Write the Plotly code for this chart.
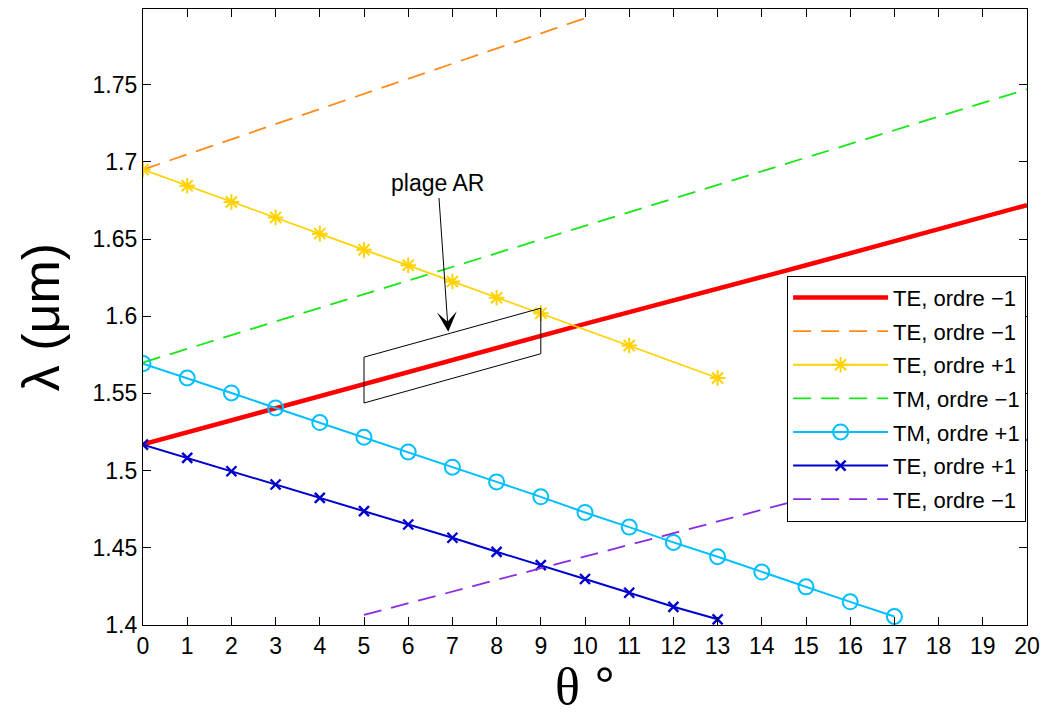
import plotly.graph_objects as go

# ---- data ----
theta_te_m1_red = [0, 5, 10, 15, 20]
lam_te_m1_red = [1.517, 1.556, 1.595, 1.633, 1.672]

theta_te_m1_orange = [0, 10]
lam_te_m1_orange = [1.695, 1.793]

theta_te_p1_yellow = [0, 1, 2, 3, 4, 5, 6, 7, 8, 9, 11, 13]
lam_te_p1_yellow = [1.695, 1.6845, 1.674, 1.664, 1.6535, 1.643, 1.633, 1.6225, 1.612, 1.602, 1.581, 1.560]

theta_tm_m1_green = [0, 20]
lam_tm_m1_green = [1.570, 1.747]

theta_tm_p1_cyan = list(range(0, 18))
lam_tm_p1_cyan = [1.5693, 1.5600, 1.5503, 1.5406, 1.5311, 1.5216, 1.5121, 1.5022, 1.4927,
                  1.4830, 1.4729, 1.4634, 1.4535, 1.4442, 1.4343, 1.4247, 1.4150, 1.4055]

theta_te_p1_blue = list(range(0, 14))
lam_te_p1_blue = [1.5168, 1.5082, 1.4996, 1.4910, 1.4823, 1.4737, 1.4651, 1.4565, 1.4474,
                  1.4388, 1.4298, 1.4209, 1.4118, 1.4037]

theta_te_m1_purple = [5, 20]
lam_te_m1_purple = [1.4065, 1.520]

legend_labels = ["TE, ordre \u22121", "TE, ordre \u22121", "TE, ordre +1", "TM, ordre \u22121",
                 "TM, ordre +1", "TE, ordre +1", "TE, ordre \u22121"]

x_ticks = list(range(0, 21))
y_ticks = [1.4, 1.45, 1.5, 1.55, 1.6, 1.65, 1.7, 1.75]
y_tick_labels = ["1.4", "1.45", "1.5", "1.55", "1.6", "1.65", "1.7", "1.75"]

box_theta = [5, 9, 9, 5]
box_lam = [1.5438, 1.5757, 1.6052, 1.5735]

FONT = "Liberation Sans, Arial, Helvetica, sans-serif"

fig = go.Figure()

def add(x, y, name, color, width, dash="solid", symbol=None, msize=10, mlw=1.5, group="g"):
    mode = "lines+markers" if symbol else "lines"
    marker = dict(symbol=symbol, size=msize, color=color, line=dict(color=color, width=mlw)) if symbol else None
    fig.add_trace(go.Scatter(x=x, y=y, name=name, mode=mode,
                             line=dict(color=color, width=width, dash=dash),
                             marker=marker, legendgroup=group))

DASH = "18px,10px"
add(theta_te_m1_red, lam_te_m1_red, legend_labels[0], "#ff0000", 4.5, group="a")
add(theta_te_m1_orange, lam_te_m1_orange, legend_labels[1], "#ff8c1a", 1.8, dash=DASH, group="b")
add(theta_te_p1_yellow, lam_te_p1_yellow, legend_labels[2], "#ffd200", 1.8, symbol="asterisk-open", msize=13, mlw=2, group="c")
add(theta_tm_m1_green, lam_tm_m1_green, legend_labels[3], "#19e619", 1.8, dash=DASH, group="d")
add(theta_tm_p1_cyan, lam_tm_p1_cyan, legend_labels[4], "#00bfff", 2, symbol="circle-open", msize=15, mlw=2, group="e")
add(theta_te_p1_blue, lam_te_p1_blue, legend_labels[5], "#0000cd", 2, symbol="x-thin-open", msize=10, mlw=2.4, group="f")
add(theta_te_m1_purple, lam_te_m1_purple, legend_labels[6], "#8a2be2", 1.8, dash=DASH, group="g")

# parallelogram "plage AR"
path = "M {},{} L {},{} L {},{} L {},{} Z".format(box_theta[0], box_lam[0], box_theta[1], box_lam[1],
                                                   box_theta[2], box_lam[2], box_theta[3], box_lam[3])
fig.add_shape(type="path", path=path, xref="x", yref="y", line=dict(color="black", width=1))

fig.add_annotation(x=6.906, y=1.590, ax=6.674, ay=1.686, xref="x", yref="y", axref="x", ayref="y",
                   text="plage AR", showarrow=True, arrowhead=3, arrowsize=3.3, arrowwidth=1,
                   arrowcolor="black", font=dict(family=FONT, size=23, color="black"))

axis_common = dict(showline=True, linecolor="black", linewidth=1.2, mirror="ticks",
                   ticks="inside", ticklen=8, tickwidth=1, tickcolor="black",
                   showgrid=False, zeroline=False,
                   tickfont=dict(family=FONT, size=23, color="black"))

fig.update_xaxes(range=[0, 20], tickvals=x_ticks, ticktext=[str(v) for v in x_ticks],
                 title=dict(text="<span style='font-family:Liberation Serif'>\u03b8</span> \u00b0",
                            font=dict(family=FONT, size=52, color="black"), standoff=9),
                 **axis_common)
fig.update_yaxes(range=[1.4, 1.799], tickvals=y_ticks, ticktext=y_tick_labels,
                 title=dict(text="\u03bb (\u03bcm)", font=dict(family=FONT, size=52, color="black"), standoff=16),
                 **axis_common)

fig.update_layout(
    width=1048, height=715,
    margin=dict(l=143, r=18, t=8, b=90),
    paper_bgcolor="white", plot_bgcolor="white",
    legend=dict(x=0.999, y=0.567, xanchor="right", yanchor="top",
                bgcolor="white", bordercolor="black", borderwidth=1,
                font=dict(family=FONT, size=22, color="black"),
                tracegroupgap=2, itemwidth=95),
    showlegend=True,
)

fig.write_html("out.html", config={"displayModeBar": False},
               post_script="document.body.style.margin='0px';")
